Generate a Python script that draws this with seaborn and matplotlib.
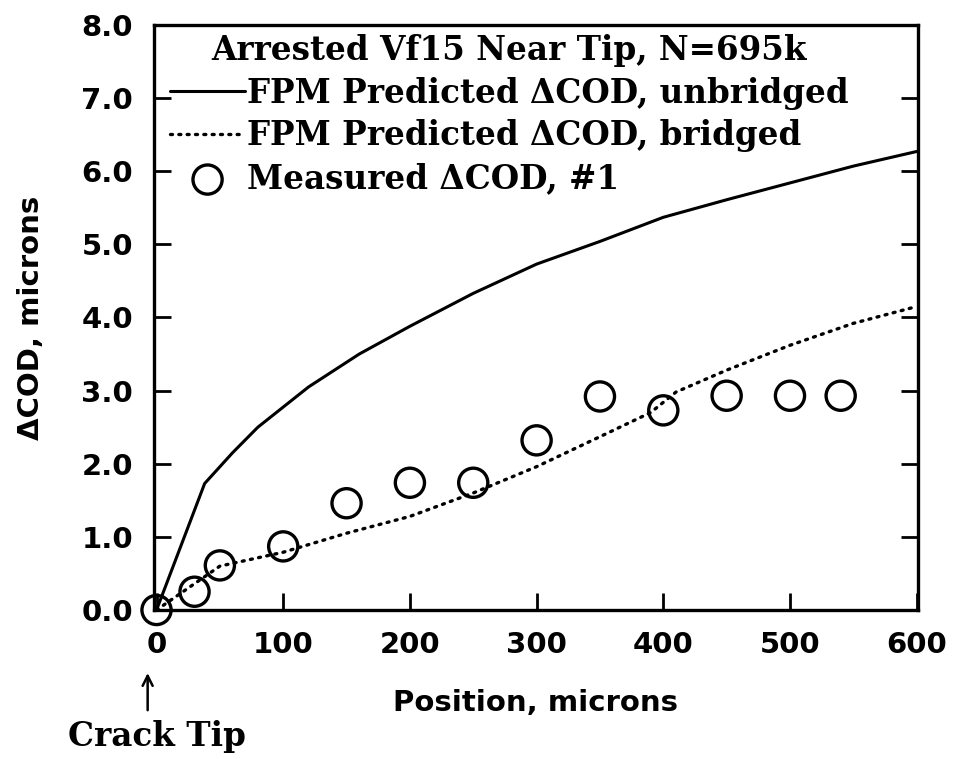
import numpy as np
import pandas as pd
import matplotlib
matplotlib.use("Agg")
import matplotlib.pyplot as plt
import seaborn as sns
from matplotlib.font_manager import FontProperties

# ==========================================================
# DATA
# ==========================================================

unbridged_x = [0, 38, 60, 80, 120, 160, 200, 250, 300, 350, 400, 450, 500, 550, 600]
unbridged_y = [0.0, 1.73, 2.15, 2.50, 3.05, 3.50, 3.88, 4.33, 4.73, 5.04, 5.37, 5.61, 5.84, 6.07, 6.27]

bridged_x = [0, 50, 100, 150, 200, 250, 300, 350, 390, 410, 450, 500, 550, 600]
bridged_y = [0.0, 0.60, 0.79, 1.05, 1.28, 1.60, 1.96, 2.37, 2.70, 2.98, 3.28, 3.62, 3.92, 4.15]

measured_x = [0, 30, 50, 100, 150, 200, 250, 300, 350, 400, 450, 500, 540]
measured_y = [0.0, 0.25, 0.61, 0.87, 1.46, 1.74, 1.74, 2.32, 2.92, 2.73, 2.93, 2.93, 2.93]

x_ticks = [0, 100, 200, 300, 400, 500, 600]
y_ticks = [0, 1, 2, 3, 4, 5, 6, 7, 8]

legend_title = "Arrested Vf15 Near Tip, N=695k"
labels = [
    "FPM Predicted \u0394COD, unbridged",
    "FPM Predicted \u0394COD, bridged",
    "Measured \u0394COD, #1",
]

# ==========================================================
# STYLE
# ==========================================================

sns.set_theme(style="white")
plt.rcParams["font.family"] = ["DejaVu Sans"]
plt.rcParams["text.color"] = "black"

SANS_SIZE = 21
SERIF = FontProperties(family="DejaVu Serif", weight="bold", size=23.5)

fig = plt.figure(figsize=(9.57, 7.59), dpi=100)
ax = fig.add_axes([0.1609, 0.1963, 0.7983, 0.7708])

unb_df = pd.DataFrame({"x": unbridged_x, "y": unbridged_y})
br_df = pd.DataFrame({"x": bridged_x, "y": bridged_y})
meas_df = pd.DataFrame({"x": measured_x, "y": measured_y})

sns.lineplot(
    data=unb_df, x="x", y="y", ax=ax,
    color="black", linewidth=2.2, sort=False,
    label=labels[0]
)

sns.lineplot(
    data=br_df, x="x", y="y", ax=ax,
    color="black", linewidth=2.4, sort=False,
    linestyle=(0, (0.6, 1.9)), dash_capstyle="round",
    label=labels[1]
)

sns.scatterplot(
    data=meas_df, x="x", y="y", ax=ax,
    marker="o", s=21 ** 2, facecolors="none",
    edgecolor="black", linewidth=2.4, zorder=5,
    clip_on=False,
    label=labels[2]
)

# ==========================================================
# AXES
# ==========================================================

ax.set_xlim(-2, 601)
ax.set_ylim(0, 8)

ax.set_xticks(x_ticks)
ax.set_yticks(y_ticks)
ax.set_xticklabels([str(t) for t in x_ticks])
ax.set_yticklabels([f"{t:.1f}" for t in y_ticks])

for side in ["left", "right", "top", "bottom"]:
    ax.spines[side].set_visible(True)
    ax.spines[side].set_color("black")
    ax.spines[side].set_linewidth(2.4)

ax.tick_params(
    axis="both", direction="in", length=12, width=2,
    color="black", labelsize=SANS_SIZE, labelcolor="black", pad=15
)
ax.tick_params(axis="y", right=True, left=True)
ax.tick_params(axis="x", bottom=True, top=False)

for lbl in ax.get_xticklabels() + ax.get_yticklabels():
    lbl.set_fontweight("bold")

ax.set_xlabel("Position, microns", fontsize=SANS_SIZE, fontweight="bold",
              color="black", labelpad=22)
ax.set_ylabel("\u0394COD, microns", fontsize=SANS_SIZE, fontweight="bold",
              color="black", labelpad=26)

# ==========================================================
# LEGEND
# ==========================================================

handles, _ = ax.get_legend_handles_labels()
leg = ax.legend(
    handles, labels,
    title=legend_title,
    loc="upper left",
    bbox_to_anchor=(0.021, 0.985),
    frameon=False,
    prop=SERIF,
    title_fontproperties=SERIF,
    handlelength=2.3,
    handletextpad=0.05,
    labelspacing=0.3,
    borderpad=0,
    borderaxespad=0,
)
for txt in leg.get_texts():
    txt.set_color("black")
leg.get_title().set_color("black")

# ==========================================================
# CRACK TIP ANNOTATION
# ==========================================================

ax.annotate(
    "", xy=(-7, -0.103), xytext=(-7, -0.176),
    xycoords=("data", "axes fraction"),
    textcoords=("data", "axes fraction"),
    arrowprops=dict(arrowstyle="->", color="black", lw=1.8,
                    mutation_scale=18),
    annotation_clip=False,
)
ax.text(0, -0.217, "Crack Tip", transform=ax.get_xaxis_transform(),
        ha="center", va="center", fontproperties=SERIF, color="black",
        clip_on=False)

fig.savefig("out.png", dpi=100)
plt.close(fig)
